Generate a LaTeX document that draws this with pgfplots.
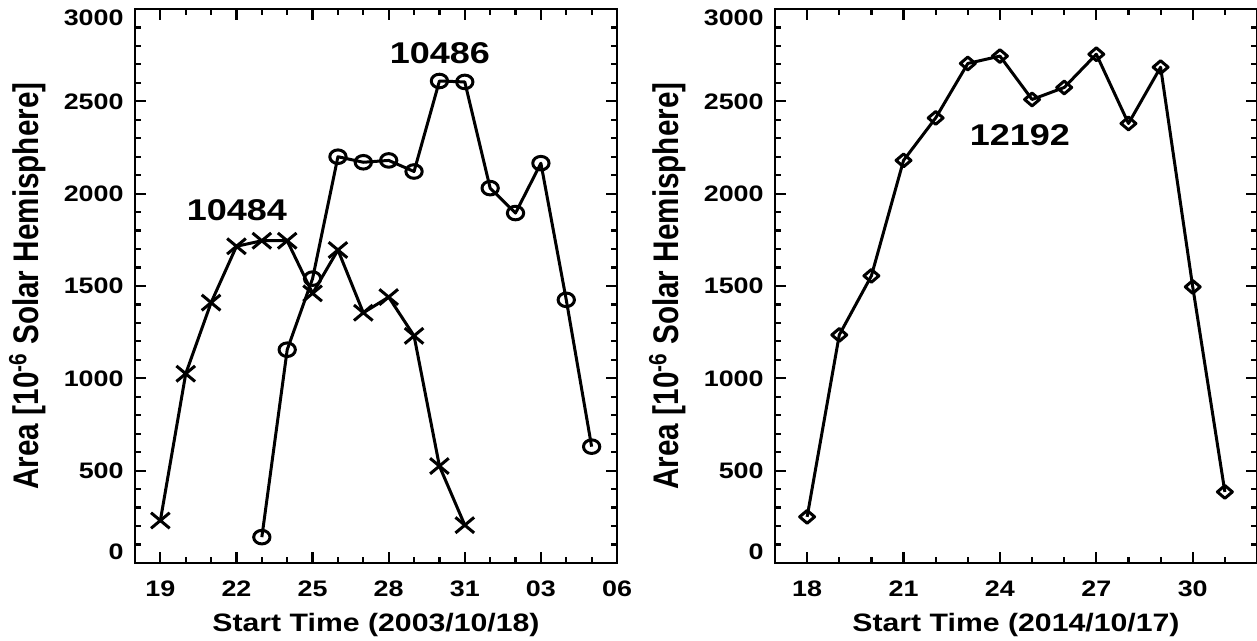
\documentclass[border=0pt]{standalone}
\usepackage{fontspec}
\setmainfont{Liberation Sans}
\newfontfamily\hfont{Liberation Sans}[FakeStretch=1.2]
\newfontfamily\vfont{Liberation Sans}[FakeStretch=0.8333]
\usepackage{pgfplots}
\pgfplotsset{compat=1.18}
\pgfplotsset{
 panel/.style={
  scale only axis, width=241pt, height=277pt,
  ymin=0, ymax=3000, ytick={0,500,...,3000},
  yticklabels={\raisebox{5.5pt}[\height][\depth]{0},500,1000,1500,2000,2500,\raisebox{-4.5pt}[\height][\depth]{3000}},
  minor ytick={0,100,...,3000},
  tick align=inside, xtick pos=both, ytick pos=both,
  major tick length=5.5pt, minor tick length=3pt,
  every tick/.style={black, line width=1.1pt},
  axis line style={line width=1.3pt},
  ticklabel style={font=\hfont\bfseries\fontsize{11.2}{13}\selectfont, inner sep=0pt},
  xticklabel style={yshift=-8.5pt},
  yticklabel style={xshift=-5.5pt},
  xlabel style={at={(axis description cs:0.5,-0.0903)}, anchor=north, inner sep=0pt, font=\hfont\bfseries\fontsize{12.6}{15}\selectfont},
  ylabel={Area [10\textsuperscript{-6} Solar Hemisphere]},
  ylabel style={at={(axis description cs:-0.2625,0.5)}, anchor=north, inner sep=0pt, font=\vfont\bfseries\fontsize{17.8}{20}\selectfont},
 },
 ser/.style={black, line width=1.5pt, line join=round},
}
\begin{document}
\begin{tikzpicture}
\path[use as bounding box] (-67.5pt,-39pt) rectangle (561pt,281.5pt);
\begin{axis}[panel, at={(0pt,0pt)}, anchor=south west,
  xmin=18, xmax=37, xtick={19,22,25,28,31,34,37},
  xticklabels={19,22,25,28,31,03,06}, minor xtick={18,...,37},
  xlabel={Start Time (2003/10/18)}]
\addplot[ser, mark=x, mark size=5.5pt, mark options={xscale=1.2, solid}] coordinates {
 (19,230) (20,1025) (21,1410) (22,1715) (23,1745) (24,1745) (25,1460)
 (26,1695) (27,1355) (28,1440) (29,1230) (30,525) (31,205)};
\addplot[ser, mark=o, mark size=3.4pt, mark options={xscale=1.2, solid, fill=white}] coordinates {
 (23,140) (24,1155) (25,1540) (26,2200) (27,2170) (28,2180) (29,2120)
 (30,2610) (31,2605) (32,2030) (33,1895) (34,2165) (35,1425) (36,630)};
\node[font=\hfont\bfseries\fontsize{15}{18}\selectfont] at (axis cs:22.02,1911) {10484};
\node[font=\hfont\bfseries\fontsize{15}{18}\selectfont] at (axis cs:30.02,2762) {10486};
\end{axis}
\begin{axis}[panel, at={(320pt,0pt)}, anchor=south west,
  xmin=17, xmax=32, xtick={18,21,24,27,30}, xticklabels={18,21,24,27,30},
  minor xtick={17,...,32},
  xlabel={Start Time (2014/10/17)}]
\addplot[ser, mark=diamond, mark size=3.2pt, mark options={xscale=1.56, solid, fill=white}] coordinates {
 (18,250) (19,1235) (20,1555) (21,2180) (22,2410) (23,2705) (24,2745)
 (25,2510) (26,2575) (27,2755) (28,2380) (29,2685) (30,1495) (31,385)};
\node[font=\hfont\bfseries\fontsize{15}{18}\selectfont] at (axis cs:24.62,2318) {12192};
\end{axis}
\end{tikzpicture}
\end{document}
